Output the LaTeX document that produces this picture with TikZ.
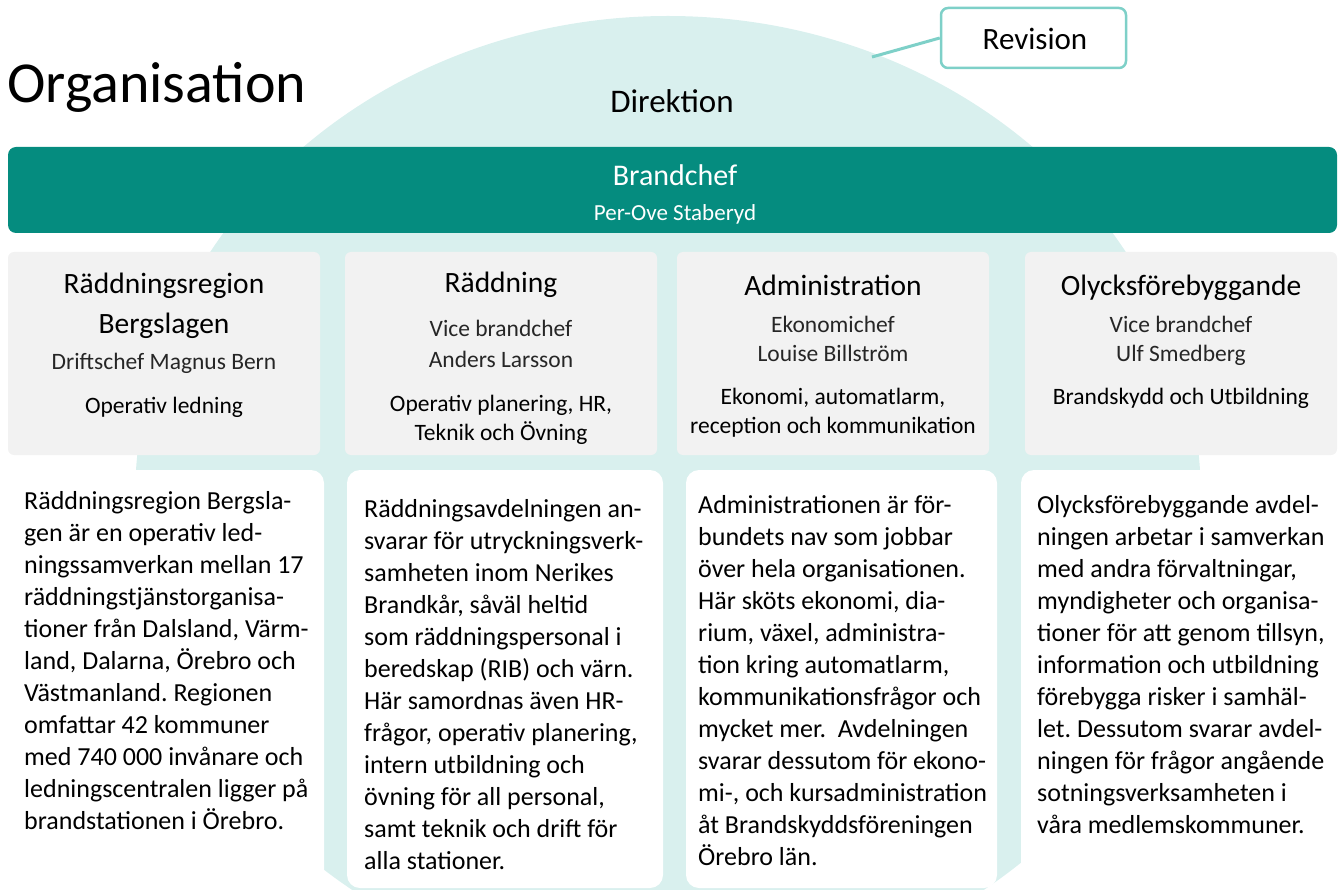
\documentclass[tikz,border=0pt]{standalone}
\usepackage{fontspec}
\setmainfont{Carlito}
\frenchspacing
\definecolor{dome}{RGB}{217,240,238}
\definecolor{barteal}{RGB}{5,140,127}
\definecolor{hdrgray}{RGB}{242,242,242}
\definecolor{revteal}{RGB}{126,208,200}
\begin{document}
\begin{tikzpicture}[x=1pt,y=-1pt,
  hdr/.style={fill=hdrgray, rounded corners=6pt, minimum width=312pt, minimum height=203pt, inner sep=0pt},
  txtbox/.style={fill=white, rounded corners=13pt, minimum height=418pt, inner sep=0pt},
  lbl/.style={anchor=base, inner sep=0pt},
  ttl/.style={lbl, font=\fontsize{29.5}{35}\selectfont},
  sub/.style={lbl, font=\fontsize{23.5}{28}\selectfont, text=black!85},
  tag/.style={lbl, font=\fontsize{23.5}{28}\selectfont},
  body/.style={anchor=north west, inner sep=0pt, align=left, font=\fontsize{26}{32}\selectfont},
  revbox/.style={draw=revteal, line width=2.5pt, rounded corners=7pt, fill=white, minimum width=185pt, minimum height=60pt, inner sep=0pt},
  revline/.style={draw=revteal, line width=3pt}
]
\useasboundingbox (0,0) rectangle (1340,890);
\begin{scope}
  \clip (0,0) rectangle (1340,890);
  \fill[dome] (668,500) ellipse [x radius=533pt, y radius=484pt];
\end{scope}

% title
\node[lbl, anchor=base west, font=\fontsize{58}{64}\selectfont] (title) at (7,103) {Organisation};
\node[lbl, font=\fontsize{33}{40}\selectfont] (dir) at (672,113) {Direktion};

% revision
\coordinate (revend) at (872,57);
\node[revbox] (rev) at (1033.5,38) {};
\node[lbl, font=\fontsize{31}{36}\selectfont] (revt) at (1035,50) {Revision};
\draw[revline] (rev.west) -- (revend);

% brandchef bar
\node[fill=barteal, rounded corners=8pt, minimum width=1329pt, minimum height=86pt, inner sep=0pt] (bar) at (672.5,190) {};
\node[lbl, text=white, font=\fontsize{30}{36}\selectfont] (bc) at (675,186) {Brandchef};
\node[lbl, text=white, font=\fontsize{23}{28}\selectfont] (bcn) at (675,221) {Per-Ove Staberyd};

% header boxes
\node[hdr] (h1) at (164,353.5) {};
\node[hdr] (h2) at (501,353.5) {};
\node[hdr] (h3) at (833,353.5) {};
\node[hdr] (h4) at (1181,353.5) {};

% text boxes
\node[txtbox, minimum width=316pt] (t1) at (166,679) {};
\node[txtbox, minimum width=316pt] (t2) at (505,679) {};
\node[txtbox, minimum width=311pt] (t3) at (841.5,679) {};
\node[txtbox, minimum width=316pt] (t4) at (1179,679) {};

% header texts col1
\node[ttl] (h1a) at (164,294) {Räddningsregion};
\node[ttl] (h1b) at (164,333) {Bergslagen};
\node[sub] (h1c) at (164,369) {Driftschef Magnus Bern};
\node[tag] (h1d) at (164,413) {Operativ ledning};
% col2
\node[ttl] (h2a) at (501,293) {Räddning};
\node[sub] (h2b) at (501,337) {Vice brandchef};
\node[sub] (h2c) at (501,367) {Anders Larsson};
\node[tag] (h2d) at (501,411) {Operativ planering, HR,};
\node[tag] (h2e) at (501,440) {Teknik och Övning};
% col3
\node[ttl] (h3a) at (833,296) {Administration};
\node[sub] (h3b) at (833,332) {Ekonomichef};
\node[sub] (h3c) at (833,361) {Louise Billström};
\node[tag] (h3d) at (833,404) {Ekonomi, automatlarm,};
\node[tag] (h3e) at (833,433) {reception och kommunikation};
% col4
\node[ttl] (h4a) at (1181,296) {Olycksförebyggande};
\node[sub] (h4b) at (1181,332) {Vice brandchef};
\node[sub] (h4c) at (1181,361) {Ulf Smedberg};
\node[tag] (h4d) at (1181,404) {Brandskydd och Utbildning};

% body texts
\node[body] (b1) at (24,486.6) {\strut Räddningsregion Bergsla-\\gen är en operativ led-\\ningssamverkan mellan 17\\räddningstjänstorganisa-\\tioner från Dalsland, Värm-\\land, Dalarna, Örebro och\\Västmanland. Regionen\\omfattar 42 kommuner\\med 740 000 invånare och\\ledningscentralen ligger på\\brandstationen i Örebro.};
\node[body] (b2) at (364,494.6) {\strut Räddningsavdelningen an-\\svarar för utryckningsverk-\\samheten inom Nerikes\\Brandkår, såväl heltid\\som räddningspersonal i\\beredskap (RIB) och värn.\\Här samordnas även HR-\\frågor, operativ planering,\\intern utbildning och\\övning för all personal,\\samt teknik och drift för\\alla stationer.};
\node[body] (b3) at (698,490.6) {\strut Administrationen är för-\\bundets nav som jobbar\\över hela organisationen.\\Här sköts ekonomi, dia-\\rium, växel, administra-\\tion kring automatlarm,\\kommunikationsfrågor och\\mycket mer.~ Avdelningen\\svarar dessutom för ekono-\\mi-, och kursadministration\\åt Brandskyddsföreningen\\Örebro län.};
\node[body] (b4) at (1037,490.6) {\strut Olycksförebyggande avdel-\\ningen arbetar i samverkan\\med andra förvaltningar,\\myndigheter och organisa-\\tioner för att genom tillsyn,\\information och utbildning\\förebygga risker i samhäl-\\let. Dessutom svarar avdel-\\ningen för frågor angående\\sotningsverksamheten i\\våra medlemskommuner.};
\end{tikzpicture}
\end{document}
